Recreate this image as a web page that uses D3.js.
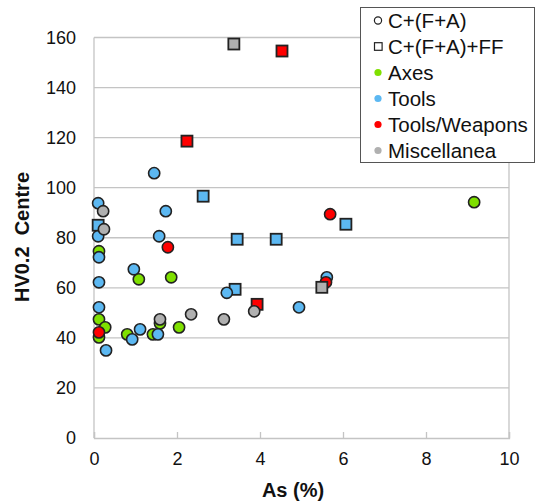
<!DOCTYPE html>
<html><head><meta charset="utf-8">
<script src="https://cdn.jsdelivr.net/npm/d3@7"></script>
<style>body{margin:0;background:#fff}svg{display:block}text{font-family:"Liberation Sans",Arial,sans-serif}</style>
</head><body><div id="chart"></div>
<script>
// Data: [As (%), HV0.2 Centre]
const axesCircles = [[0.12,74.6],[1.08,63.4],[1.86,64.2],[0.12,47.4],[0.27,44.2],[0.12,40.2],[0.80,41.4],[1.59,45.8],[1.42,41.4],[2.05,44.2],[9.16,94.2]];
const toolsCircles = [[1.45,105.8],[0.10,93.8],[1.73,90.6],[0.10,80.6],[1.57,80.6],[0.12,72.2],[0.96,67.4],[0.12,62.2],[0.12,52.2],[0.29,35.0],[0.92,39.4],[1.11,43.4],[1.54,41.4],[3.20,58.0],[4.94,52.2],[5.61,64.2]];
const toolsSquares = [[2.63,96.6],[3.45,79.4],[4.39,79.4],[6.07,85.4],[3.40,59.4],[0.10,85.0]];
const weaponsCircles = [[1.78,76.2],[0.12,42.2],[5.59,62.2],[5.69,89.4]];
const weaponsSquares = [[2.24,118.6],[4.53,154.6],[3.93,53.4]];
const miscCircles = [[0.22,90.6],[0.24,83.4],[1.59,47.4],[2.34,49.4],[3.13,47.4],[3.86,50.6]];
const miscSquares = [[3.37,157.4],[5.49,60.2]];
const xTicks = [0,2,4,6,8,10];
const yTicks = [0,20,40,60,80,100,120,140,160];
const legendLabels = ["C+(F+A)","C+(F+A)+FF","Axes","Tools","Tools/Weapons","Miscellanea"];
const colors = {Axes:"#7fe000", Tools:"#5cb8f2", Weapons:"#ff0000", Misc:"#b0b0b0"};

const W=537,H=502;
const svg=d3.select("#chart").append("svg").attr("width",W).attr("height",H);
const x=d3.scaleLinear().domain([0,10]).range([94,509]);
const y=d3.scaleLinear().domain([0,160]).range([438,37.5]);
const grid="#c4c4c4";

// gridlines
svg.append("g").selectAll("line").data(yTicks.filter(d=>d>0)).join("line")
  .attr("x1",x(0)).attr("x2",x(10)).attr("y1",d=>y(d)).attr("y2",d=>y(d))
  .attr("stroke",grid).attr("stroke-width",1.3);
// frame sides
svg.append("line").attr("x1",x(0)).attr("x2",x(0)).attr("y1",y(160)).attr("y2",y(0)).attr("stroke",grid).attr("stroke-width",1.3);
svg.append("line").attr("x1",x(10)).attr("x2",x(10)).attr("y1",y(160)).attr("y2",y(0)).attr("stroke",grid).attr("stroke-width",1.3);

// x axis
const xa=svg.append("g").attr("transform",`translate(0,${y(0)})`)
  .call(d3.axisBottom(x).tickValues(xTicks).tickSize(-6).tickPadding(14).tickFormat(d3.format("d")));
xa.select(".domain").attr("stroke",grid).attr("stroke-width",1.3);
xa.selectAll(".tick line").attr("stroke",grid).attr("stroke-width",1.3);
xa.selectAll("text").attr("font-size",18).attr("fill","#111").attr("dy","0.71em").attr("font-family","Liberation Sans, Arial, sans-serif");

// y axis labels
const ya=svg.append("g").attr("transform",`translate(${x(0)},0)`)
  .call(d3.axisLeft(y).tickValues(yTicks).tickSize(0).tickPadding(18));
ya.select(".domain").remove();
ya.selectAll("text").attr("font-size",18).attr("fill","#111").attr("font-family","Liberation Sans, Arial, sans-serif");

// titles
svg.append("text").attr("x",293).attr("y",497).attr("text-anchor","middle")
  .attr("font-size",20).attr("font-weight","bold").attr("fill","#111").text("As (%)");
svg.append("text").attr("transform","translate(29,237) rotate(-90)").attr("text-anchor","middle")
  .attr("font-size",20).attr("font-weight","bold").attr("fill","#111").attr("xml:space","preserve").style("white-space","pre").text("HV0.2  Centre");

// points
const g=svg.append("g");
function circles(data,color){
  g.append("g").selectAll("circle").data(data).join("circle")
   .attr("cx",d=>x(d[0])).attr("cy",d=>y(d[1])).attr("r",5.6)
   .attr("fill",color).attr("stroke","#222").attr("stroke-width",1.6);
}
function squares(data,color){
  const s=11;
  g.append("g").selectAll("rect").data(data).join("rect")
   .attr("x",d=>x(d[0])-s/2).attr("y",d=>y(d[1])-s/2).attr("width",s).attr("height",s)
   .attr("fill",color).attr("stroke","#222").attr("stroke-width",1.8);
}
circles(axesCircles,colors.Axes);
squares(toolsSquares,colors.Tools);
circles(toolsCircles,colors.Tools);
squares(weaponsSquares,colors.Weapons);
circles(weaponsCircles,colors.Weapons);
squares(miscSquares,colors.Misc);
circles(miscCircles,colors.Misc);

// legend
const lg=svg.append("g");
lg.append("rect").attr("x",360.5).attr("y",7.5).attr("width",174).attr("height",155)
  .attr("fill","#fff").attr("stroke","#555").attr("stroke-width",1);
const rowY=i=>27.5+i*26;
const legColors=[null,null,colors.Axes,colors.Tools,colors.Weapons,colors.Misc];
legendLabels.forEach((t,i)=>{
  const cy=rowY(i)-7;
  if(i===0) lg.append("circle").attr("cx",378).attr("cy",cy).attr("r",3.6).attr("fill","none").attr("stroke","#222").attr("stroke-width",1.2);
  else if(i===1) lg.append("rect").attr("x",374.5).attr("y",cy-3.8).attr("width",7.6).attr("height",7.6).attr("fill","none").attr("stroke","#222").attr("stroke-width",1.2);
  else lg.append("circle").attr("cx",378).attr("cy",cy).attr("r",3.6).attr("fill",legColors[i]);
  lg.append("text").attr("x",388).attr("y",rowY(i)).attr("font-size",20.5).attr("fill","#111").text(t);
});
</script></body></html>
